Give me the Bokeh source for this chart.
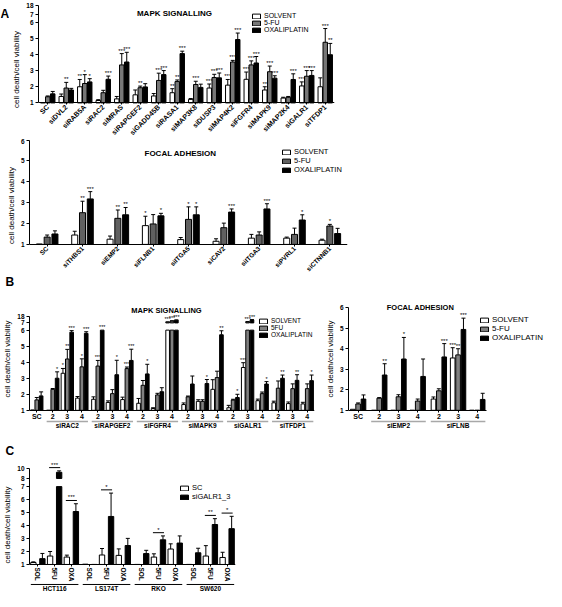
import math
from bokeh.plotting import figure
from bokeh.models import (FactorRange, Range1d, ColumnDataSource, FixedTicker,
                          Legend, LegendItem, Label)
from bokeh.transform import dodge
from bokeh.layouts import column, row
from bokeh.embed import file_html
from bokeh.resources import INLINE
from bokeh.core.properties import value

FONT = "Liberation Sans"
Y_LABEL = "cell death/cell viability"

# ---------------- Panel A : MAPK signalling ----------------
A_MAPK_TITLE = "MAPK SIGNALLING"
A_MAPK_GENES = ["SC", "siDVL2", "siRAB5A", "siRAC2", "siMRAS", "siRAPGEF2", "siGADD45B",
                "siRASA1", "siMAP3K8", "siDUSP3", "siMAP4K2", "siFGFR4", "siMAPK9",
                "siMAP2K4", "siGALR1", "siTFDP1"]
A_LEGEND = ["SOLVENT", "5-FU", "OXALIPLATIN"]
A_MAPK_SOLVENT = [1.02, 1.40, 2.00, 1.15, 1.25, 1.50, 1.43, 1.63, 1.22, 1.92, 2.10, 2.46, 1.80, 1.30, 2.05, 2.00]
A_MAPK_5FU = [1.38, 1.92, 2.20, 1.63, 3.35, 1.94, 2.39, 2.32, 2.14, 2.57, 3.53, 3.35, 2.93, 1.35, 2.65, 4.75]
A_MAPK_OXA = [1.56, 1.80, 2.30, 2.46, 3.53, 1.99, 2.75, 4.05, 1.96, 2.55, 4.92, 3.47, 2.53, 2.45, 2.70, 3.98]
A_MAPK_SOLVENT_ERR = [0.0, 0.15, 0.45, 0.05, 0.15, 0.30, 0.15, 0.25, 0.05, 0.25, 0.35, 0.45, 0.20, 0.05, 0.25, 0.55]
A_MAPK_5FU_ERR = [0.05, 0.35, 0.55, 0.15, 0.70, 0.10, 0.45, 0.10, 0.20, 0.20, 0.10, 0.25, 0.35, 0.05, 0.35, 0.85]
A_MAPK_OXA_ERR = [0.15, 0.10, 0.20, 0.20, 0.60, 0.20, 0.25, 0.15, 0.20, 0.30, 0.40, 0.40, 0.15, 0.35, 0.30, 0.70]
A_MAPK_SOLVENT_SIG = ["", "", "**", "", "", "", "", "**", "", "***", "***", "***", "**", "", "***", ""]
A_MAPK_5FU_SIG = ["", "**", "*", "", "***", "**", "***", "**", "***", "***", "***", "***", "***", "", "***", "***"]
A_MAPK_OXA_SIG = ["", "", "*", "***", "***", "", "***", "***", "", "***", "***", "***", "***", "***", "***", "**"]
A_MAPK_TICKS = [1, 2, 3, 4, 5, 6, 7, 18]

# ---------------- Panel A : focal adhesion ----------------
A_FA_TITLE = "FOCAL ADHESION"
A_FA_GENES = ["SC", "siTHBS1", "siEMP2", "siFLNB1", "siITGA5", "siCAV2", "siITGA3", "siPVRL1", "siCTNNB1"]
A_FA_SOLVENT = [1.02, 1.45, 1.25, 1.90, 1.23, 1.15, 1.30, 1.30, 1.20]
A_FA_5FU = [1.35, 2.52, 2.25, 1.98, 2.20, 1.80, 1.45, 1.48, 1.88]
A_FA_OXA = [1.50, 3.18, 2.42, 2.37, 2.42, 2.55, 2.70, 2.17, 1.52]
A_FA_SOLVENT_ERR = [0.0, 0.18, 0.15, 0.45, 0.10, 0.12, 0.18, 0.05, 0.05]
A_FA_5FU_ERR = [0.10, 0.55, 0.40, 0.45, 0.60, 0.22, 0.15, 0.30, 0.08]
A_FA_OXA_ERR = [0.15, 0.35, 0.35, 0.12, 0.38, 0.15, 0.25, 0.25, 0.25]
A_FA_SOLVENT_SIG = ["", "", "", "*", "", "", "", "", ""]
A_FA_5FU_SIG = ["", "**", "**", "", "*", "", "", "", "*"]
A_FA_OXA_SIG = ["", "***", "**", "*", "*", "***", "***", "*", ""]
A_FA_TICKS = [1, 2, 3, 4, 5, 6]

# ---------------- Panel B : MAPK signalling ----------------
B_MAPK_TITLE = "MAPK SIGNALLING"
B_MAPK_LEGEND = ["SOLVENT", "5FU", "OXALIPLATIN"]
B_CONTROL = "SC"
B_MAPK_GENES = ["siRAC2", "siRAPGEF2", "siFGFR4", "siMAPK9", "siGALR1", "siTFDP1"]
B_SIRNA_NUMBERS = ["2", "3", "4"]
B_MAPK_SOLVENT = [1.02, 1.00, 3.31, 1.76, 1.69, 1.49, 1.67, 1.44, 1.11, 8.5,
                  1.36, 1.56, 2.31, 1.16, 3.67, 1.60, 1.47, 1.42, 1.40]
B_MAPK_5FU = [1.65, 2.31, 4.20, 3.71, 3.76, 2.04, 3.60, 2.56, 1.96, 10.5,
              1.84, 1.56, 3.04, 1.64, 9.0, 2.04, 2.38, 2.35, 2.35]
B_MAPK_OXA = [1.90, 3.00, 5.87, 5.80, 6.00, 3.22, 4.11, 3.27, 2.16, 12.0,
              2.64, 2.67, 5.71, 1.80, 12.5, 2.64, 3.00, 2.87, 2.85]
B_MAPK_SOLVENT_ERR = [0.0, 0.0, 0.30, 0.10, 0.15, 0.10, 0.15, 0.30, 0.05, 0.3,
                      0.10, 0.10, 0.60, 0.15, 0.30, 0.10, 0.10, 0.10, 0.10]
B_MAPK_5FU_ERR = [0.15, 0.05, 0.60, 0.50, 0.35, 0.25, 0.10, 0.30, 0.10, 0.3,
                  0.05, 0.10, 0.40, 0.05, 0.3, 0.10, 0.45, 0.30, 0.30]
B_MAPK_OXA_ERR = [0.25, 0.40, 0.10, 0.10, 0.0, 0.90, 0.70, 0.60, 0.25, 0.3,
                  0.50, 0.25, 0.25, 0.20, 0.3, 0.15, 0.20, 0.35, 0.35]
B_MAPK_SOLVENT_SIG = ["", "", "*", "", "", "", "", "", "", "***",
                      "", "", "", "", "***", "", "", "", ""]
B_MAPK_5FU_SIG = ["", "", "**", "*", "***", "", "***", "", "", "***",
                  "", "", "", "", "***", "", "", "", ""]
B_MAPK_OXA_SIG = ["", "*", "***", "***", "***", "*", "***", "*", "", "***",
                  "", "*", "**", "*", "***", "*", "**", "**", "*"]
B_MAPK_TICKS = [1, 2, 3, 4, 5, 6, 7, 18]

# ---------------- Panel B : focal adhesion ----------------
B_FA_TITLE = "FOCAL ADHESION"
B_FA_GENES = ["siEMP2", "siFLNB"]
B_FA_SOLVENT = [1.05, 1.0, 1.0, 1.0, 1.55, 3.55, 1.0]
B_FA_5FU = [1.31, 1.59, 1.66, 1.45, 1.95, 3.70, 1.0]
B_FA_OXA = [1.55, 2.72, 3.50, 2.65, 3.60, 4.94, 1.53]
B_FA_SOLVENT_ERR = [0.0, 0.0, 0.0, 0.0, 0.10, 0.50, 0.0]
B_FA_5FU_ERR = [0.05, 0.03, 0.10, 0.10, 0.10, 0.30, 0.0]
B_FA_OXA_ERR = [0.20, 0.55, 1.05, 0.85, 0.65, 0.55, 0.30]
B_FA_SOLVENT_SIG = ["", "", "", "", "", "***", ""]
B_FA_5FU_SIG = ["", "", "", "", "", "**", ""]
B_FA_OXA_SIG = ["", "**", "*", "", "***", "***", ""]
B_FA_TICKS = [1, 2, 3, 4, 5, 6]

# ---------------- Panel C ----------------
C_LINES = ["HCT116", "LS174T", "RKO", "SW620"]
C_TREATMENTS = ["SOL", "5FU", "OXA"]
C_LEGEND = ["SC", "siGALR1_3"]
C_SC = [1.15, 1.65, 1.57, 1.02, 1.73, 1.70, 1.0, 1.57, 2.19, 1.0, 1.65, 1.54]
C_SI = [1.45, 9.3, 5.08, 1.0, 4.70, 2.46, 1.84, 2.90, 2.65, 1.90, 4.08, 3.76]
C_SC_ERR = [0.05, 0.35, 0.15, 0.0, 0.50, 0.50, 0.0, 0.25, 0.40, 0.0, 0.80, 0.40]
C_SI_ERR = [0.40, 0.30, 0.60, 0.0, 1.80, 0.55, 0.25, 0.30, 0.55, 0.35, 0.45, 0.95]
C_SIG = ["", "***", "***", "", "*", "", "", "*", "", "", "**", "*"]
C_TICKS = [1, 2, 3, 4, 5, 6, 7, 8, 10]

WHITE, BLACK = "white", "black"
RESERVED_BOTTOM = 10   # px that Bokeh keeps below the frame


def make_break(cut_lo, cut_hi, d_hi, scale_hi):
    def disp(v):
        if v <= cut_lo:
            return v
        if v >= cut_hi:
            return d_hi + (v - cut_hi) * scale_hi
        return cut_lo + (v - cut_lo) * (d_hi - cut_lo) / (cut_hi - cut_lo)
    return disp


def no_break(v):
    return v


class Box:
    """Page geometry of one figure frame: top, canvas bottom, x-axis position, px per unit."""
    def __init__(self, frame_top, canvas_bottom, axis, unit):
        self.top = frame_top
        self.bottom = canvas_bottom - RESERVED_BOTTOM
        self.axis = axis
        self.unit = unit

    def yrange(self):
        return Range1d(1 - (self.bottom - self.axis) / self.unit,
                       1 + (self.axis - self.top) / self.unit)

    def below(self, px):
        return 1 - px / self.unit

    def sy(self, page_y):
        return self.bottom - page_y


def base_fig(xr, yr, w, h, bl, br, bt=0, axes=True):
    kw = dict(x_range=xr, y_range=yr, width=w, height=h,
              output_backend="svg", toolbar_location=None,
              min_border_left=bl, min_border_right=br,
              min_border_top=bt, min_border_bottom=0)
    if not axes:
        kw.update(x_axis_location=None, y_axis_location=None)
    p = figure(**kw)
    p.outline_line_color = None
    p.grid.grid_line_color = None
    p.background_fill_color = "white"
    p.border_fill_color = "white"
    return p


def letter_fig(letter, w, h, y):
    p = base_fig(Range1d(0, 1), Range1d(0, 1), w, h, 0, 0, axes=False)
    p.add_layout(Label(x=0, y=y, x_units="screen", y_units="screen", text=letter,
                       text_font=FONT, text_font_size="12px", text_font_style="bold",
                       text_baseline="alphabetic", text_align="left", text_color="black"))
    return p


def panel_letter(p, letter, offset):
    p.title.text = letter
    p.title.align = "left"
    p.title.offset = offset
    p.title.standoff = 1
    p.title.text_font = FONT
    p.title.text_font_size = "12px"
    p.title.text_font_style = "bold"
    p.title.text_color = "black"


def style_y(p, ticks, disp, top_tick):
    ax = p.yaxis[0]
    locs = [disp(t) for t in ticks]
    ax.ticker = FixedTicker(ticks=locs)
    ax.major_label_overrides = {loc: str(t) for loc, t in zip(locs, ticks)}
    ax.bounds = (1, disp(top_tick))
    ax.axis_label = Y_LABEL
    ax.axis_label_text_font = FONT
    ax.axis_label_text_font_size = "8px"
    ax.axis_label_text_font_style = "normal"
    ax.axis_label_text_color = "black"
    ax.axis_label_standoff = 2
    ax.major_label_text_font = FONT
    ax.major_label_text_font_size = "6.5px"
    ax.major_label_text_font_style = "bold"
    ax.major_label_text_color = "black"
    ax.major_label_standoff = 2
    ax.major_tick_out = 3
    ax.major_tick_in = 0
    ax.minor_tick_out = 0
    ax.minor_tick_in = 0
    ax.axis_line_width = 1
    ax.axis_line_color = "black"
    ax.major_tick_line_color = "black"


def style_x(p, size="7px", orientation=None, bounds=None):
    ax = p.xaxis[0]
    ax.fixed_location = 1
    ax.axis_label_standoff = 0
    ax.major_label_text_font = FONT
    ax.major_label_text_font_size = size
    ax.major_label_text_font_style = "bold"
    ax.major_label_text_color = "black"
    ax.major_label_standoff = 1
    ax.major_tick_out = 2
    ax.major_tick_in = 0
    ax.axis_line_width = 1
    ax.axis_line_color = "black"
    ax.major_tick_line_color = "black"
    if orientation is not None:
        ax.major_label_orientation = orientation
    if bounds is not None:
        ax.bounds = bounds
    if hasattr(ax, "group_text_font_size"):
        ax.group_text_font_size = "0px"
        ax.group_text_alpha = 0
        ax.separator_line_alpha = 0


def add_bars(p, factors, vals_list, err_list, sig_list, colors, offsets, width,
             disp, cut=None, star_size="6px"):
    renderers = []
    for vals, errs, sigs, col, off in zip(vals_list, err_list, sig_list, colors, offsets):
        xs = dodge("x", off, range=p.x_range)
        tops = [disp(min(v, cut[0])) if cut else disp(v) for v in vals]
        src = ColumnDataSource(dict(x=factors, top=tops))
        r = p.vbar(x=xs, top="top", bottom=1, width=width, fill_color=col,
                   line_color="black", line_width=1, source=src)
        renderers.append(r)
        if cut:
            up = [(f, v) for f, v in zip(factors, vals) if v > cut[1]]
            if up:
                usrc = ColumnDataSource(dict(x=[f for f, _ in up],
                                             bottom=[disp(cut[1])] * len(up),
                                             top=[disp(v) for _, v in up]))
                p.vbar(x=dodge("x", off, range=p.x_range), top="top", bottom="bottom",
                       width=width, fill_color=col, line_color="black",
                       line_width=1, source=usrc)
        ex, e0, e1 = [], [], []
        for f, v, e in zip(factors, vals, errs):
            if e > 0:
                ex.append(f)
                e0.append(disp(v))
                e1.append(disp(v + e))
        if ex:
            esrc = ColumnDataSource(dict(x=ex, y0=e0, y1=e1))
            p.segment(x0=dodge("x", off, range=p.x_range), x1=dodge("x", off, range=p.x_range),
                      y0="y0", y1="y1", line_color="black", line_width=1, source=esrc)
            p.scatter(x=dodge("x", off, range=p.x_range), y="y1", marker="dash", size=4,
                      line_color="black", line_width=1, source=esrc)
        sx, sy, st = [], [], []
        for f, v, e, s in zip(factors, vals, errs, sigs):
            if s:
                sx.append(f)
                sy.append(disp(v + e))
                st.append(s)
        if sx:
            ssrc = ColumnDataSource(dict(x=sx, y=sy, t=st))
            p.text(x=dodge("x", off, range=p.x_range), y="y", text="t", source=ssrc,
                   text_font=value(FONT), text_font_size=star_size, text_align="center",
                   text_baseline="bottom", text_color="black")
    return renderers


def add_legend(p, renderers, labels, vx, vy, size="7.5px"):
    items = [LegendItem(label=l, renderers=[r]) for l, r in zip(labels, renderers)]
    lg = Legend(items=items, location=(vx, vy), glyph_width=10, glyph_height=6,
                label_height=6, label_width=10, spacing=0, padding=0, margin=0,
                label_standoff=3, label_text_font=FONT, label_text_font_size=size,
                label_text_color="black", label_text_line_height=0.9,
                border_line_color=None, background_fill_alpha=0)
    p.add_layout(lg)


def add_title(p, text, x, y, size="8px"):
    p.add_layout(Label(x=x, y=y, x_units="screen", y_units="screen", text=text,
                       text_font=FONT, text_font_size=size, text_font_style="bold",
                       text_color="black", text_align="center", text_baseline="middle"))


def add_groups(p, groups, subs, y_line, y_text, color, lw, size="7px"):
    first = [(g, subs[0]) for g in groups]
    mid = [(g, subs[len(subs) // 2]) for g in groups]
    last = [(g, subs[-1]) for g in groups]
    src = ColumnDataSource(dict(a=first, b=last, m=mid, g=groups,
                                yl=[y_line] * len(groups), yt=[y_text] * len(groups)))
    p.segment(x0=dodge("a", -0.42, range=p.x_range), x1=dodge("b", 0.42, range=p.x_range),
              y0="yl", y1="yl", line_color=color, line_width=lw, source=src)
    p.text(x="m", y="yt", text="g", source=src, text_font=value(FONT),
           text_font_size=size, text_font_style="bold", text_align="center",
           text_baseline="middle", text_color="black")


# ================= A1  (canvas y 8..146, frame x 42..342, axis at 103) =================
gA1 = Box(8, 146, 103, 15)
dispA1 = make_break(6, 7, 6.47, 0.53 / 11)
a1 = base_fig(FactorRange(*A_MAPK_GENES, range_padding=0), gA1.yrange(), 333, 138, 25, 8)
style_y(a1, A_MAPK_TICKS, dispA1, 18)
style_x(a1, "7px", math.pi / 4)
rA1 = add_bars(a1, A_MAPK_GENES, [A_MAPK_SOLVENT, A_MAPK_5FU, A_MAPK_OXA],
               [A_MAPK_SOLVENT_ERR, A_MAPK_5FU_ERR, A_MAPK_OXA_ERR],
               [A_MAPK_SOLVENT_SIG, A_MAPK_5FU_SIG, A_MAPK_OXA_SIG],
               [WHITE, "#777777", BLACK], [-0.27, 0, 0.27], 0.24, dispA1)
add_legend(a1, rA1, A_LEGEND, 213, gA1.sy(31), "7px")
add_title(a1, A_MAPK_TITLE, 136, gA1.sy(11))
letA = letter_fig("A", 9, 138, 125)

# ================= A2  (canvas y 146..280, frame x 35..358, axis at 244) =================
gA2 = Box(146, 280, 244, 19.3)
a2 = base_fig(FactorRange(*A_FA_GENES, range_padding=0), gA2.yrange(), 354, 134, 27, 4)
style_y(a2, A_FA_TICKS, no_break, 6)
style_x(a2, "6.5px", math.pi / 4)
rA2 = add_bars(a2, A_FA_GENES, [A_FA_SOLVENT, A_FA_5FU, A_FA_OXA],
               [A_FA_SOLVENT_ERR, A_FA_5FU_ERR, A_FA_OXA_ERR],
               [A_FA_SOLVENT_SIG, A_FA_5FU_SIG, A_FA_OXA_SIG],
               [WHITE, "#606060", BLACK], [-0.22, 0, 0.22], 0.17, no_break)
add_legend(a2, rA2, A_LEGEND, 252, gA2.sy(172), "7.5px")
add_title(a2, A_FA_TITLE, 151, gA2.sy(151))

# ================= B1  (canvas y 280..436, frame y from 296, x 32..322, axis at 409) =====
gB1 = Box(296, 436, 409, 15)
dispB1 = make_break(6, 7, 6.45, 0.38 / 11)
b1_factors = [(" ", B_CONTROL)] + [(g, s) for g in B_MAPK_GENES for s in B_SIRNA_NUMBERS]
b1 = base_fig(FactorRange(*b1_factors, range_padding=0, group_padding=0.1),
              gB1.yrange(), 320, 156, 24, 6, bt=16)
panel_letter(b1, "B", -24)
style_y(b1, B_MAPK_TICKS, dispB1, 18)
style_x(b1, "7px")
rB1 = add_bars(b1, b1_factors, [B_MAPK_SOLVENT, B_MAPK_5FU, B_MAPK_OXA],
               [B_MAPK_SOLVENT_ERR, B_MAPK_5FU_ERR, B_MAPK_OXA_ERR],
               [B_MAPK_SOLVENT_SIG, B_MAPK_5FU_SIG, B_MAPK_OXA_SIG],
               [WHITE, "#808080", BLACK], [-0.3, 0, 0.3], 0.25, dispB1, cut=(6, 7),
               star_size="5.5px")
add_legend(b1, rB1, B_MAPK_LEGEND, 229, gB1.sy(336), "6.5px")
add_title(b1, B_MAPK_TITLE, 137, gB1.sy(308), "7.5px")
add_groups(b1, B_MAPK_GENES, B_SIRNA_NUMBERS, gB1.below(10.5), gB1.below(14.5),
           "#a8a8a8", 1.5, "6.5px")

# ================= B2  (canvas y 280..436, frame x 356..554, axis at 409) =================
gB2 = Box(296, 436, 409, 19.2)
b2_factors = [(" ", B_CONTROL)] + [(g, s) for g in B_FA_GENES for s in B_SIRNA_NUMBERS]
b2_pad = [("  ", " "), ("  ", "  "), ("  ", "   ")]
b2 = base_fig(FactorRange(*(b2_factors + b2_pad), range_padding=0, group_padding=0.1),
              gB2.yrange(), 226, 156, 28, 0, bt=16)
style_y(b2, B_FA_TICKS, no_break, 6)
style_x(b2, "7px", bounds=(0, 7.2))
rB2 = add_bars(b2, b2_factors, [B_FA_SOLVENT, B_FA_5FU, B_FA_OXA],
               [B_FA_SOLVENT_ERR, B_FA_5FU_ERR, B_FA_OXA_ERR],
               [B_FA_SOLVENT_SIG, B_FA_5FU_SIG, B_FA_OXA_SIG],
               [WHITE, "#808080", BLACK], [-0.28, 0, 0.28], 0.24, no_break,
               star_size="6px")
add_legend(b2, rB2, A_LEGEND, 131, gB2.sy(340), "8px")
add_title(b2, B_FA_TITLE, 72, gB2.sy(305), "7.5px")
add_groups(b2, B_FA_GENES, B_SIRNA_NUMBERS, gB2.below(10.5), gB2.below(14.5),
           "#a8a8a8", 1.5, "6.5px")

# ================= C  (canvas y 436..599, frame from 466, x 32..243, axis at 564) =========
gC = Box(466, 599, 564, 12.0)
dispC = make_break(7, 8, 7.63, 0.73 / 2)
c_factors = [(l, t) for l in C_LINES for t in C_TREATMENTS]
cfig = base_fig(FactorRange(*c_factors, range_padding=0, group_padding=0.1),
                gC.yrange(), 242, 163, 24, 7, bt=30)
panel_letter(cfig, "C", -24)
style_y(cfig, C_TICKS, dispC, 10)
style_x(cfig, "6.5px", orientation="vertical")
rC = add_bars(cfig, c_factors, [C_SC, C_SI], [C_SC_ERR, C_SI_ERR], [[""] * 12, [""] * 12],
              [WHITE, BLACK], [-0.27, 0.27], 0.32, dispC, cut=(7, 8))
bx, by, bt = [], [], []
for f, a, ea, b, eb, s in zip(c_factors, C_SC, C_SC_ERR, C_SI, C_SI_ERR, C_SIG):
    if s:
        bx.append(f)
        by.append(max(dispC(a + ea), dispC(b + eb)) + 0.25)
        bt.append(s)
bsrc = ColumnDataSource(dict(x=bx, y=by, t=bt))
cfig.segment(x0=dodge("x", -0.33, range=cfig.x_range), x1=dodge("x", 0.33, range=cfig.x_range),
             y0="y", y1="y", line_color="black", line_width=1, source=bsrc)
cfig.text(x="x", y="y", text="t", source=bsrc, text_font=value(FONT), text_font_size="6px",
          text_align="center", text_baseline="bottom", text_color="black")
add_legend(cfig, rC, C_LEGEND, 150, gC.sy(499), "7.5px")
add_groups(cfig, C_LINES, C_TREATMENTS, gC.below(18.5), gC.below(22), "black", 1, "6.5px")

layout = column(row(letA, a1), a2, row(b1, b2), cfig)
open("out.html", "w").write(file_html(layout, INLINE))
